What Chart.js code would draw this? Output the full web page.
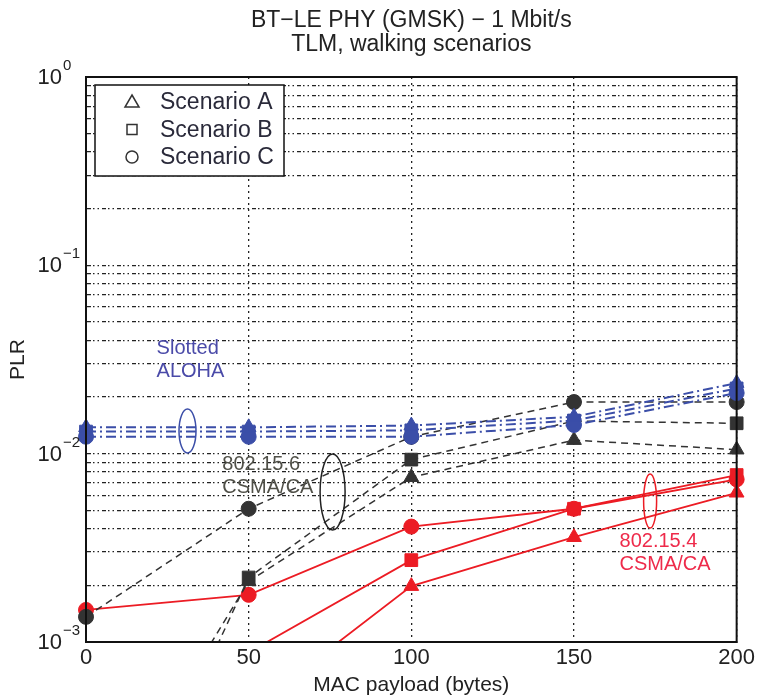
<!DOCTYPE html>
<html>
<head>
<meta charset="utf-8">
<script src="https://cdn.jsdelivr.net/npm/chart.js@4.4.1/dist/chart.umd.min.js"></script>
<style>
  html, body { margin: 0; padding: 0; background: #fff; }
  canvas { display: block; }
</style>
</head>
<body>
<canvas id="plr" width="758" height="698"></canvas>
<script>
// MAC payload (bytes)
const payload = [0, 50, 100, 150, 200];

// Slotted ALOHA (blue, dash-dot)
const alohaA = [0.0138, 0.0138, 0.0141, 0.0157, 0.0237];
const alohaB = [0.0131, 0.0131, 0.0133, 0.0150, 0.0222];
const alohaC = [0.0123, 0.0123, 0.0123, 0.0142, 0.0210];

// 802.15.6 CSMA/CA (black, dashed)
const csma6A = [0.00008, 0.0021, 0.0075, 0.0118, 0.0105];
const csma6B = [0.00003, 0.0022, 0.0093, 0.0149, 0.0145];
const csma6C = [0.00136, 0.0051, 0.0123, 0.0188, 0.0188];

// 802.15.4 CSMA/CA (red, solid)
const csma4A = [0.0001, 0.00043, 0.00198, 0.0036, 0.0062];
const csma4B = [0.0004, 0.00088, 0.00272, 0.0051, 0.0077];
const csma4C = [0.00148, 0.00178, 0.0041, 0.0051, 0.0073];

const xTicks = [0, 50, 100, 150, 200];
const yDecades = [-3, -2, -1, 0];
const scenarioNames = ["Scenario A", "Scenario B", "Scenario C"];

const FONT = "'Liberation Sans', Arial, sans-serif";
const BLUE = "#3b4ea8";
const BLACK = "#333333";
const RED = "#ec1c24";

// marker shape per scenario
const shapes = {
  A: { pointStyle: "triangle", radius: 8.5 },
  B: { pointStyle: "rect", radius: 9 },
  C: { pointStyle: "circle", radius: 7.5 },
};

const groups = {
  aloha: { color: BLUE, dash: [10, 4, 2, 4], width: 2 },
  csma6: { color: BLACK, dash: [7, 5], width: 1.5 },
  csma4: { color: RED, dash: [], width: 1.8 },
};

function makeSet(label, values, group, scenario) {
  const g = groups[group];
  const s = shapes[scenario];
  return {
    label: label,
    data: payload.map((x, i) => ({ x: x, y: values[i] })),
    borderColor: g.color,
    backgroundColor: g.color,
    borderDash: g.dash,
    borderWidth: g.width,
    pointStyle: s.pointStyle,
    pointRadius: s.radius,
    pointBackgroundColor: g.color,
    pointBorderColor: g.color,
    pointBorderWidth: 1,
    tension: 0,
    clip: { left: 14, right: 14, top: 14, bottom: 0 },
  };
}

const datasets = [
  makeSet("ALOHA A", alohaA, "aloha", "A"),
  makeSet("ALOHA C", alohaC, "aloha", "C"),
  makeSet("ALOHA B", alohaB, "aloha", "B"),
  makeSet("802.15.6 A", csma6A, "csma6", "A"),
  makeSet("802.15.6 B", csma6B, "csma6", "B"),
  makeSet("802.15.6 C", csma6C, "csma6", "C"),
  makeSet("802.15.4 A", csma4A, "csma4", "A"),
  makeSet("802.15.4 B", csma4B, "csma4", "B"),
  makeSet("802.15.4 C", csma4C, "csma4", "C"),
];

// text and ellipse annotations, placed in data coordinates
const notes = [
  { lines: ["Slotted", "ALOHA"], x: 21.7, y: 0.0364, color: "#4a4aa8" },
  { lines: ["802.15.6", "CSMA/CA"], x: 41.9, y: 0.0088, color: "#505048" },
  { lines: ["802.15.4", "CSMA/CA"], x: 164, y: 0.00343, color: "#ee2a4a" },
];
const ellipses = [
  { x: 31.2, y: 0.0132, rx: 8.5, ry: 22, color: BLUE },
  { x: 75.8, y: 0.00625, rx: 12.5, ry: 38, color: "#222" },
  { x: 173.4, y: 0.0056, rx: 6.5, ry: 27, color: RED },
];

const overlay = {
  id: "overlay",
  afterDraw(chart) {
    const ctx = chart.ctx;
    const ca = chart.chartArea;
    const xs = chart.scales.x;
    const ys = chart.scales.y;
    ctx.save();

    // frame
    ctx.strokeStyle = "#111";
    ctx.lineWidth = 2;
    ctx.strokeRect(ca.left, ca.top, ca.right - ca.left, ca.bottom - ca.top);

    // ellipses
    ellipses.forEach((e) => {
      ctx.beginPath();
      ctx.strokeStyle = e.color;
      ctx.lineWidth = 1.5;
      ctx.ellipse(xs.getPixelForValue(e.x), ys.getPixelForValue(e.y), e.rx, e.ry, 0, 0, Math.PI * 2);
      ctx.stroke();
    });

    // annotation text
    ctx.font = "20px " + FONT;
    ctx.textAlign = "left";
    ctx.textBaseline = "middle";
    notes.forEach((n) => {
      ctx.fillStyle = n.color;
      const px = xs.getPixelForValue(n.x);
      const py = ys.getPixelForValue(n.y);
      n.lines.forEach((line, i) => ctx.fillText(line, px, py + i * 23));
    });

    // title
    ctx.fillStyle = "#222";
    ctx.textAlign = "center";
    ctx.font = "23px " + FONT;
    const cx = (ca.left + ca.right) / 2;
    ctx.fillText("BT\u2212LE PHY (GMSK) \u2212 1 Mbit/s", cx, 21);
    ctx.fillText("TLM, walking scenarios", cx, 45);

    // y tick labels 10^k
    yDecades.forEach((k) => {
      const py = ys.getPixelForValue(Math.pow(10, k));
      ctx.font = "22px " + FONT;
      ctx.textAlign = "right";
      ctx.fillText("10", 62, py + 1);
      ctx.font = "15px " + FONT;
      ctx.textAlign = "left";
      ctx.fillText(k === 0 ? "0" : "\u2212" + Math.abs(k), 63, py - 11);
    });

    // y axis title
    ctx.save();
    ctx.translate(18, (ca.top + ca.bottom) / 2);
    ctx.rotate(-Math.PI / 2);
    ctx.font = "21px " + FONT;
    ctx.textAlign = "center";
    ctx.fillText("PLR", 0, 0);
    ctx.restore();

    // legend
    const lx = ca.left + 9, ly = ca.top + 8, lw = 189, lh = 91;
    ctx.fillStyle = "#fff";
    ctx.fillRect(lx, ly, lw, lh);
    ctx.strokeStyle = "#111";
    ctx.lineWidth = 1.5;
    ctx.strokeRect(lx, ly, lw, lh);
    ["A", "B", "C"].forEach((sc, i) => {
      const ry = ly + 17 + i * 27.5;
      const sx = lx + 37;
      ctx.strokeStyle = "#333";
      ctx.lineWidth = 1.5;
      ctx.beginPath();
      if (sc === "A") {
        ctx.moveTo(sx, ry - 7);
        ctx.lineTo(sx + 7, ry + 5);
        ctx.lineTo(sx - 7, ry + 5);
        ctx.closePath();
      } else if (sc === "B") {
        ctx.rect(sx - 5, ry - 5, 10, 10);
      } else {
        ctx.arc(sx, ry, 6, 0, Math.PI * 2);
      }
      ctx.stroke();
      ctx.fillStyle = "#2a2a3a";
      ctx.font = "23px " + FONT;
      ctx.textAlign = "left";
      ctx.fillText(scenarioNames[i], lx + 65, ry + 1);
    });

    ctx.restore();
  },
};

const yGridValues = [];
yDecades.forEach((k) => {
  if (k === 0) {
    yGridValues.push(1);
  } else {
    for (let m = 1; m < 10; m++) yGridValues.push(m * Math.pow(10, k));
  }
});

new Chart(document.getElementById("plr"), {
  type: "line",
  data: { datasets: datasets },
  options: {
    responsive: false,
    animation: false,
    devicePixelRatio: 1,
    layout: { padding: { left: 0, right: 18, top: 77, bottom: 0 } },
    plugins: {
      legend: { display: false },
      title: { display: false },
      tooltip: { enabled: false },
    },
    scales: {
      x: {
        type: "linear",
        min: 0,
        max: 200,
        afterBuildTicks: (scale) => {
          scale.ticks = xTicks.map((v) => ({ value: v }));
        },
        afterFit: (scale) => {
          scale.height = 56;
        },
        ticks: {
          font: { family: FONT, size: 22 },
          color: "#222",
          padding: 3,
        },
        grid: {
          color: "#222",
          lineWidth: 1.3,
          drawTicks: false,
        },
        border: { display: true, color: "#111", width: 2, dash: [2, 4] },
        title: {
          display: true,
          text: "MAC payload (bytes)",
          font: { family: FONT, size: 21 },
          color: "#222",
          padding: { top: 0, bottom: 0 },
        },
      },
      y: {
        type: "logarithmic",
        min: 0.001,
        max: 1,
        afterBuildTicks: (scale) => {
          scale.ticks = yGridValues.map((v) => ({ value: v }));
        },
        afterFit: (scale) => {
          scale.width = 86;
        },
        ticks: { display: false, autoSkip: false },
        grid: {
          color: "#222",
          lineWidth: 1.3,
          drawTicks: false,
        },
        border: { display: true, color: "#111", width: 2, dash: [4, 2, 1.5, 3, 1.5, 3] },
      },
    },
  },
  plugins: [overlay],
});
</script>
</body>
</html>
